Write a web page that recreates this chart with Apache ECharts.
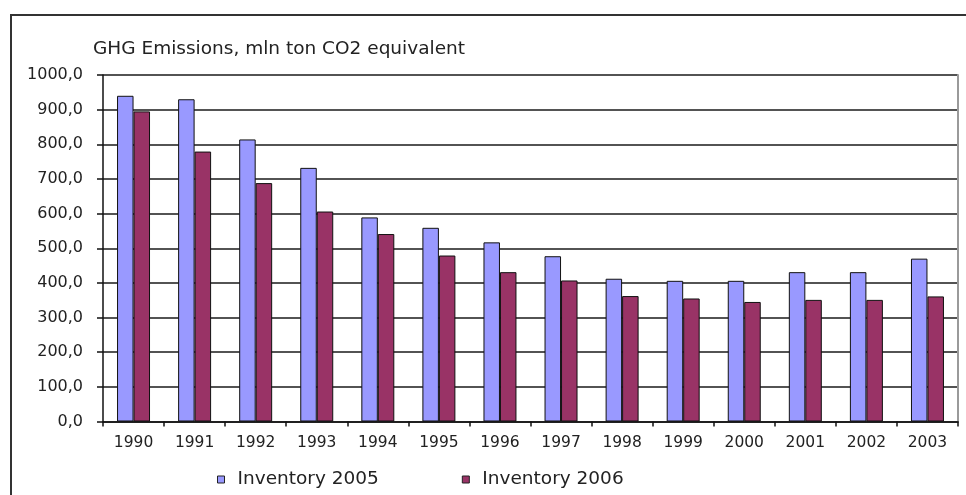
<!DOCTYPE html>
<html>
<head>
<meta charset="utf-8">
<script src="https://cdn.jsdelivr.net/npm/echarts@6/dist/echarts.min.js"></script>
<style>
  html, body { margin: 0; padding: 0; background: #fff; }
  #chart { width: 966px; height: 495px; }
</style>
</head>
<body>
<div id="chart"></div>
<script>
// Greenhouse gas emissions by year, two inventory editions
const years = ['1990', '1991', '1992', '1993', '1994', '1995', '1996',
               '1997', '1998', '1999', '2000', '2001', '2002', '2003'];
const inventory2005 = [940, 930, 814, 732, 589, 559, 517, 477, 412, 406, 406, 431, 431, 470];
const inventory2006 = [895, 779, 688, 606, 541, 479, 431, 407, 362, 355, 345, 351, 351, 361];
const seriesNames = ['Inventory 2005', 'Inventory 2006'];
const chartTitle = 'GHG Emissions, mln ton CO2 equivalent';

const FONT = 'DejaVu Sans';
const TEXT = '#222';

const chart = echarts.init(document.getElementById('chart'), null, { renderer: 'canvas' });

const barStyle = (color) => ({
  color: color,
  borderColor: '#111',
  borderWidth: 1
});

chart.setOption({
  animation: false,
  backgroundColor: '#fff',
  title: {
    text: chartTitle,
    left: 88,
    top: 35,
    textStyle: { fontFamily: FONT, fontSize: 18.5, fontWeight: 'normal', color: TEXT }
  },
  legend: {
    left: 212,
    top: 465,
    itemWidth: 7,
    itemHeight: 7,
    itemGap: 83,
    icon: 'rect',
    itemStyle: { borderColor: '#222', borderWidth: 1 },
    textStyle: { fontFamily: FONT, fontSize: 18.5, color: TEXT, padding: [0, 0, 0, 8] },
    data: seriesNames
  },
  grid: { left: 103, right: 8, top: 75, bottom: 73.5, containLabel: false },
  xAxis: {
    type: 'category',
    data: years,
    axisLine: { lineStyle: { color: '#111', width: 1.5 } },
    axisTick: { show: true, length: 5, lineStyle: { color: '#111', width: 1.5 } },
    axisLabel: { fontFamily: FONT, fontSize: 15.5, color: TEXT, margin: 13 },
    splitLine: { show: false }
  },
  yAxis: [{
    type: 'value',
    min: 0,
    max: 1000,
    interval: 100,
    axisLine: { show: true, lineStyle: { color: '#111', width: 1.5 } },
    axisTick: { show: true, length: 6, lineStyle: { color: '#111', width: 1.5 } },
    axisLabel: {
      fontFamily: FONT, fontSize: 16, color: TEXT, margin: 20,
      formatter: (v) => v.toFixed(1).replace('.', ',')
    },
    splitLine: { show: true, lineStyle: { color: '#1a1a1a', width: 1.5 } }
  }, {
    type: 'value',
    position: 'right',
    min: 0,
    max: 1000,
    interval: 100,
    axisLine: { show: true, lineStyle: { color: '#9a9a9a', width: 2 } },
    axisTick: { show: false },
    axisLabel: { show: false },
    splitLine: { show: false }
  }],
  series: [{
    name: seriesNames[0],
    type: 'bar',
    data: inventory2005,
    barGap: '0%',
    barCategoryGap: '46%',
    itemStyle: barStyle('#9999ff')
  }, {
    name: seriesNames[1],
    type: 'bar',
    data: inventory2006,
    barGap: '0%',
    barCategoryGap: '46%',
    itemStyle: barStyle('#993366')
  }],
  graphic: [{
    type: 'rect',
    shape: { x: 11, y: 15, width: 1000, height: 600 },
    style: { fill: 'none', stroke: '#333', lineWidth: 2 },
    silent: true
  }]
});
</script>
</body>
</html>
